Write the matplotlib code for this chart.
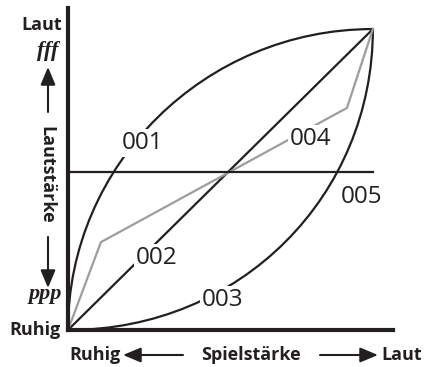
import matplotlib
matplotlib.use("Agg")
import numpy as np
from matplotlib import pyplot as plt
from matplotlib.path import Path
from matplotlib.patches import PathPatch

# Curve shapes (0..100 on both axes), drawn as cubic Bezier paths
curve_001 = [(0, 0), (0, 55), (45, 100), (100, 100)]
curve_003 = [(0, 0), (57, 0), (100, 45), (100, 100)]
line_002_x = [0, 100]
line_002_y = [0, 100]
line_004_x = [0, 10.8, 91.5, 100]
line_004_y = [0, 29.2, 73.8, 100]
level_005 = 52.5

curve_names = ["001", "002", "003", "004", "005"]
label_x = [24.3, 29.2, 50.8, 79.7, 96.4]
label_y = [62.1, 23.9, 10.0, 63.5, 44.2]

ink = "#231f20"
grey = "#9d9d9d"
font = "Open Sans"

W, H = 425, 367
fig = plt.figure(figsize=(W / 100, H / 100), dpi=100)
ax = fig.add_axes([68 / W, (H - 330) / H, (393 - 68) / W, (330 - 8) / H])
ax.set_xlim(0, 106.6)
ax.set_ylim(0, 107)
ax.set_xticks([])
ax.set_yticks([])
for side in ["top", "right"]:
    ax.spines[side].set_visible(False)
for side in ["left", "bottom"]:
    ax.spines[side].set_linewidth(3)
    ax.spines[side].set_color(ink)

codes = [Path.MOVETO, Path.CURVE4, Path.CURVE4, Path.CURVE4]
for pts in [curve_001, curve_003]:
    ax.add_patch(PathPatch(Path(pts, codes), fill=False, lw=1.6, ec=ink, zorder=2))

ax.plot(line_002_x, line_002_y, color=ink, lw=1.6, zorder=2)
ax.plot(line_004_x, line_004_y, color=grey, lw=1.6, zorder=2)
ax.plot([0, 100], [level_005, level_005], color=ink, lw=1.6, zorder=2)

for name, lx, ly in zip(curve_names, label_x, label_y):
    ax.text(lx, ly, name, ha="center", va="center", fontsize=17.5, family=font,
            color=ink, zorder=3,
            bbox=dict(facecolor="white", edgecolor="none", pad=1.5))


def fp(x, y):
    return (x, H - y)


bold = dict(family=font, weight="bold", fontsize=13, color=ink)
dyn = dict(family="Liberation Serif", weight="bold", style="italic", fontsize=16, color=ink)
arrow = dict(arrowstyle="-|>,head_length=0.6,head_width=0.25", lw=1.5, color=ink,
             shrinkA=0, shrinkB=0, mutation_scale=18)

# left side: loudness scale
fig.text(*fp(42, 25), "Laut", ha="center", va="center", transform=None, **bold)
fig.text(*fp(48, 51), "fff", ha="center", va="center", transform=None, **dyn)
fig.text(*fp(46, 175), "Lautstärke", ha="center", va="center", rotation=-90,
         transform=None, **bold)
fig.text(*fp(45, 294), "ppp", ha="center", va="center", transform=None, **dyn)
fig.text(*fp(35, 330), "Ruhig", ha="center", va="center", transform=None, **bold)
ax.annotate("", xy=fp(48, 67), xytext=fp(48, 112), xycoords="figure pixels",
            textcoords="figure pixels", arrowprops=arrow, annotation_clip=False)
ax.annotate("", xy=fp(48, 288), xytext=fp(48, 237), xycoords="figure pixels",
            textcoords="figure pixels", arrowprops=arrow, annotation_clip=False)

# bottom: playing strength
fig.text(*fp(95, 355), "Ruhig", ha="center", va="center", transform=None, **bold)
fig.text(*fp(251, 355), "Spielstärke", ha="center", va="center", transform=None, **bold)
fig.text(*fp(402, 355), "Laut", ha="center", va="center", transform=None, **bold)
ax.annotate("", xy=fp(123, 355), xytext=fp(183, 355), xycoords="figure pixels",
            textcoords="figure pixels", arrowprops=arrow, annotation_clip=False)
ax.annotate("", xy=fp(378, 355), xytext=fp(320, 355), xycoords="figure pixels",
            textcoords="figure pixels", arrowprops=arrow, annotation_clip=False)

fig.savefig("out.png", dpi=100)
